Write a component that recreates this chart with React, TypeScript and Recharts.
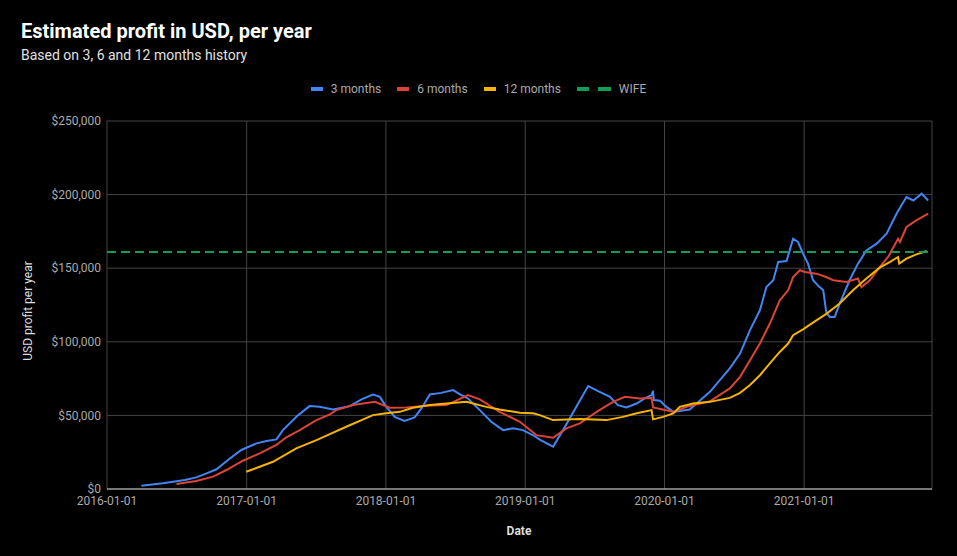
import React from 'react';
import { LineChart, Line, XAxis, YAxis, CartesianGrid } from 'recharts';

// 3 months history
const threeMonthDates = [
  '2016-03-31', '2016-05-27', '2016-07-23', '2016-08-22', '2016-09-18', '2016-10-14',
  '2016-11-13', '2016-12-18', '2017-01-27', '2017-02-22', '2017-03-20', '2017-04-06',
  '2017-05-16', '2017-06-15', '2017-07-11', '2017-08-15', '2017-09-28', '2017-10-29',
  '2017-11-28', '2017-12-16', '2018-01-02', '2018-01-24', '2018-02-19', '2018-03-17',
  '2018-04-04', '2018-04-26', '2018-05-26', '2018-06-26', '2018-07-13', '2018-08-04',
  '2018-09-04', '2018-10-04', '2018-11-04', '2018-11-30', '2018-12-26', '2019-01-22',
  '2019-02-08', '2019-03-15', '2019-04-10', '2019-06-15', '2019-07-15', '2019-08-11',
  '2019-09-01', '2019-09-23', '2019-10-20', '2019-11-10', '2019-11-28', '2019-12-02',
  '2019-12-04', '2019-12-20', '2020-01-06', '2020-01-24', '2020-03-07', '2020-03-25',
  '2020-04-29', '2020-05-25', '2020-06-20', '2020-07-17', '2020-08-12', '2020-09-07',
  '2020-09-24', '2020-10-12', '2020-10-25', '2020-11-16', '2020-11-24', '2020-12-03',
  '2020-12-16', '2020-12-29', '2021-01-11', '2021-01-24', '2021-02-07', '2021-02-20',
  '2021-02-28', '2021-03-09', '2021-03-22', '2021-04-04', '2021-04-30', '2021-05-22',
  '2021-06-13', '2021-07-10', '2021-08-05', '2021-08-31', '2021-09-26', '2021-10-14',
  '2021-11-05', '2021-11-22',
];
const threeMonthValues = [
  2200, 3900, 6100, 7900, 10600, 13400,
  19700, 26500, 31000, 32600, 33700, 40000,
  50200, 56300, 55800, 54000, 56300, 60900,
  64200, 62600, 55800, 49000, 46300, 48600,
  54700, 64200, 65300, 67200, 64400, 61500,
  53600, 45700, 40000, 41200, 40000, 36500,
  33500, 28700, 40000, 69900, 66000, 62600,
  57000, 55400, 58100, 61500, 63800, 66700,
  60400, 59900, 55800, 52400, 54000, 58100,
  66000, 73900, 81900, 92000, 107900, 121400,
  137200, 141800, 154200, 154900, 162100, 170000,
  167800, 159900, 153100, 142000, 138000, 135000,
  120000, 116900, 116900, 126000, 141800, 153100,
  162100, 166700, 173500, 187000, 198300, 196000,
  200600, 196000,
];

// 6 months history
const sixMonthDates = [
  '2016-07-01', '2016-08-22', '2016-10-05', '2016-11-09', '2016-12-22', '2017-02-04',
  '2017-03-20', '2017-04-15', '2017-05-20', '2017-07-03', '2017-08-07', '2017-08-24',
  '2017-10-07', '2017-12-03', '2018-01-11', '2018-02-24', '2018-04-17', '2018-06-09',
  '2018-08-04', '2018-09-04', '2018-10-26', '2018-12-18', '2019-01-30', '2019-03-15',
  '2019-04-19', '2019-05-24', '2019-07-07', '2019-08-19', '2019-09-19', '2019-10-28',
  '2019-11-28', '2019-12-02', '2019-12-28', '2020-01-24', '2020-02-28', '2020-04-29',
  '2020-06-20', '2020-07-17', '2020-08-12', '2020-09-07', '2020-10-03', '2020-10-29',
  '2020-11-20', '2020-12-03', '2020-12-21', '2021-01-03', '2021-02-02', '2021-02-28',
  '2021-03-18', '2021-04-22', '2021-05-22', '2021-05-31', '2021-06-22', '2021-07-18',
  '2021-08-09', '2021-09-04', '2021-09-09', '2021-09-26', '2021-10-22', '2021-11-22',
];
const sixMonthValues = [
  3400, 5400, 8400, 12900, 19200, 24200,
  29900, 35100, 40000, 46800, 50700, 53600,
  57000, 59200, 55200, 55400, 56500, 57000,
  63800, 60900, 52400, 45700, 36600, 34800,
  41200, 44600, 52400, 59200, 62600, 61500,
  61900, 55400, 54000, 52400, 55800, 59500,
  68300, 76200, 87500, 98800, 112400, 128200,
  135000, 144000, 148600, 147400, 146300, 144000,
  141800, 140600, 143000, 137200, 141800, 150800,
  157600, 170000, 167800, 178000, 182500, 187000,
];

// 12 months history
const twelveMonthDates = [
  '2016-12-31', '2017-03-11', '2017-05-11', '2017-07-03', '2017-08-07', '2017-09-19',
  '2017-11-28', '2018-01-02', '2018-02-06', '2018-03-13', '2018-04-26', '2018-06-09',
  '2018-07-31', '2018-09-21', '2018-10-26', '2018-12-18', '2019-01-22', '2019-02-08',
  '2019-03-15', '2019-05-24', '2019-08-02', '2019-09-14', '2019-10-20', '2019-11-28',
  '2019-12-02', '2019-12-28', '2020-01-24', '2020-02-10', '2020-03-16', '2020-04-29',
  '2020-06-20', '2020-07-17', '2020-08-12', '2020-09-07', '2020-10-03', '2020-10-29',
  '2020-11-20', '2020-12-03', '2020-12-29', '2021-01-24', '2021-02-28', '2021-04-04',
  '2021-05-09', '2021-06-13', '2021-07-18', '2021-08-13', '2021-09-04', '2021-09-07',
  '2021-09-26', '2021-10-22', '2021-11-18',
];
const twelveMonthValues = [
  11700, 18500, 27600, 33200, 37300, 42300,
  50200, 51400, 52400, 55200, 57000, 58100,
  59200, 55800, 54000, 51800, 51400, 50200,
  46800, 47500, 46800, 49000, 51400, 53600,
  47300, 49000, 51400, 55800, 58100, 59200,
  61900, 65300, 70600, 77300, 85300, 93100,
  98800, 104500, 108500, 113000, 119000, 126000,
  135000, 143000, 150400, 154200, 157600, 153100,
  156500, 159400, 161700,
];

// WIFE target
const wifeDates = ['2016-01-01', '2021-11-22'];
const wifeValues = [161000, 161000];

const yTicks = [0, 50000, 100000, 150000, 200000, 250000];
const xTickDates = ['2016-01-01', '2017-01-01', '2018-01-01', '2019-01-01', '2020-01-01', '2021-01-01'];
const xDomain = ['2016-01-01', '2021-12-02'];

const toPoints = (dates: string[], values: number[]) =>
  dates.map((d, i) => ({ t: Date.parse(d), v: values[i] }));

const SERIES = [
  { name: '3 months', color: '#4285f4', data: toPoints(threeMonthDates, threeMonthValues), dash: undefined },
  { name: '6 months', color: '#db4437', data: toPoints(sixMonthDates, sixMonthValues), dash: undefined },
  { name: '12 months', color: '#f4b400', data: toPoints(twelveMonthDates, twelveMonthValues), dash: undefined },
  { name: 'WIFE', color: '#0f9d58', data: toPoints(wifeDates, wifeValues), dash: '9 5' },
];

const fmtMoney = (v: number) => '$' + v.toLocaleString('en-US');
const fmtDate = (t: number) => new Date(t).toISOString().slice(0, 10);

const FONT = 'Roboto, "Noto Sans", sans-serif';

export default function App() {
  return (
    <div
      style={{
        position: 'fixed',
        left: 0,
        top: 0,
        width: 957,
        height: 556,
        background: '#000',
        fontFamily: FONT,
        overflow: 'hidden',
      }}
    >
      {/* Title */}
      <div style={{ position: 'absolute', left: 21, top: 19, color: '#fff', fontSize: 20, fontWeight: 700 }}>
        Estimated profit in USD, per year
      </div>
      <div style={{ position: 'absolute', left: 21, top: 47, color: '#e0e0e0', fontSize: 14 }}>
        Based on 3, 6 and 12 months history
      </div>

      {/* Legend */}
      <div
        style={{
          position: 'absolute',
          left: 0,
          top: 81,
          width: 957,
          display: 'flex',
          justifyContent: 'center',
          gap: 16,
          fontSize: 12,
          color: '#aaa',
          lineHeight: '16px',
        }}
      >
        {SERIES.map(s => (
          <div key={s.name} style={{ display: 'flex', alignItems: 'center', gap: 8 }}>
            {s.dash ? (
              <span style={{ display: 'flex', gap: 9 }}>
                <span style={{ width: 12, height: 4, background: s.color }} />
                <span style={{ width: 13, height: 4, background: s.color }} />
              </span>
            ) : (
              <span style={{ width: 12, height: 4, background: s.color }} />
            )}
            <span>{s.name}</span>
          </div>
        ))}
      </div>

      {/* Axis titles */}
      <div
        style={{
          position: 'absolute',
          left: 28,
          top: 311,
          transform: 'translate(-50%, -50%) rotate(-90deg)',
          whiteSpace: 'nowrap',
          fontSize: 12,
          color: '#ddd',
        }}
      >
        USD profit per year
      </div>
      <div
        style={{
          position: 'absolute',
          left: 519,
          top: 531,
          transform: 'translate(-50%, -50%)',
          fontSize: 12,
          fontWeight: 700,
          color: '#ddd',
        }}
      >
        Date
      </div>

      <LineChart
        width={957}
        height={556}
        margin={{ top: 121, right: 25, bottom: 0, left: 0 }}
        style={{ position: 'absolute', left: 0, top: 0 }}
      >
        <CartesianGrid stroke="#444" strokeWidth={1} />
        <XAxis
          dataKey="t"
          type="number"
          domain={xDomain.map(d => Date.parse(d))}
          ticks={xTickDates.map(d => Date.parse(d))}
          tickFormatter={fmtDate}
          allowDuplicatedCategory={false}
          height={67}
          tickLine={false}
          tickSize={0}
          tickMargin={7}
          axisLine={{ stroke: '#ccc' }}
          tick={{ fontSize: 12, fill: '#aaa', fontFamily: FONT }}
        />
        <YAxis
          type="number"
          domain={[0, 250000]}
          ticks={yTicks}
          tickFormatter={fmtMoney}
          width={107}
          tickLine={false}
          axisLine={false}
          tickSize={0}
          tickMargin={6}
          tick={{ fontSize: 12, fill: '#aaa', fontFamily: FONT }}
        />
        {SERIES.map(s => (
          <Line
            key={s.name}
            data={s.data}
            dataKey="v"
            name={s.name}
            type="linear"
            stroke={s.color}
            strokeWidth={2}
            strokeDasharray={s.dash}
            dot={false}
            activeDot={false}
            isAnimationActive={false}
          />
        ))}
      </LineChart>
    </div>
  );
}
